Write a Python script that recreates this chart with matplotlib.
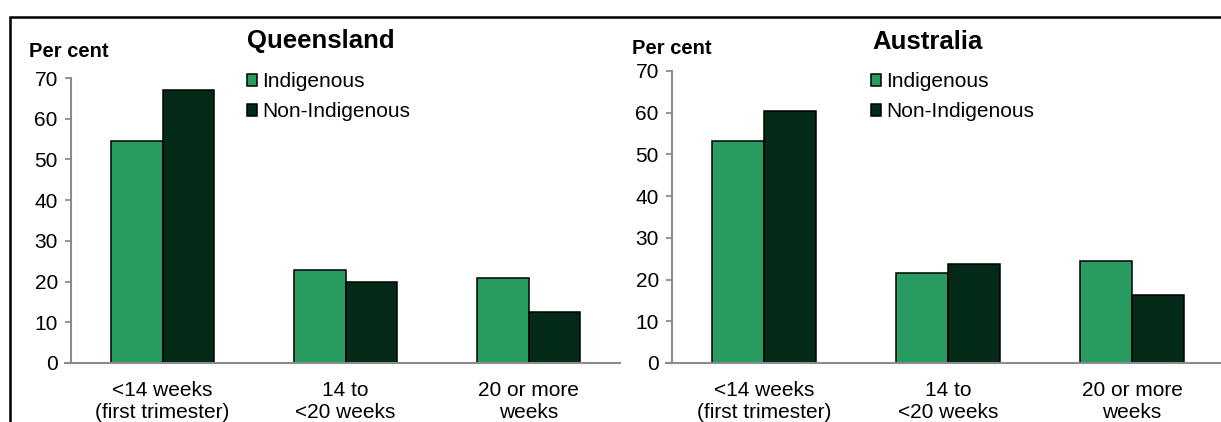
import matplotlib
matplotlib.use("Agg")
import matplotlib.pyplot as plt
from matplotlib.patches import Rectangle, Patch
import numpy as np

plt.rcParams['font.family'] = ['Liberation Sans', 'DejaVu Sans']

# data
categories = ['<14 weeks\n(first trimester)', '14 to\n<20 weeks', '20 or more\nweeks']
series_names = ['Indigenous', 'Non-Indigenous']
qld_indigenous = [54.5, 22.8, 21.0]
qld_non_indigenous = [67.1, 20.0, 12.6]
aus_indigenous = [53.3, 21.5, 24.5]
aus_non_indigenous = [60.3, 23.8, 16.2]

green = '#289C60'
dark = '#032A17'
axis_grey = '#8C8C8C'

W, H = 1221, 422
fig = plt.figure(figsize=(W / 100, H / 100), dpi=100)

# outer frame (right/bottom run off the picture)
fig.patches.append(Rectangle((10 / W, -0.1), 1.2, 1 - 17 / H + 0.1, transform=fig.transFigure,
                             fill=False, edgecolor='black', linewidth=1.8, zorder=10))


def px(x0, y_top, x1, y_bot):
    return [x0 / W, 1 - y_bot / H, (x1 - x0) / W, (y_bot - y_top) / H]


def panel(rect, ind, non, title, title_xy, percent_xy, legend_xy):
    ax = fig.add_axes(rect)
    x = np.arange(len(categories))
    w = 0.283
    ax.bar(x - w / 2, ind, w, color=green, edgecolor='black', linewidth=1.1, label=series_names[0])
    ax.bar(x + w / 2, non, w, color=dark, edgecolor='black', linewidth=1.1, label=series_names[1])
    ax.set_xlim(-0.5, 2.5)
    ax.set_ylim(0, 70)
    ax.set_yticks(range(0, 71, 10))
    ax.set_xticks(x)
    ax.set_xticklabels(categories, fontsize=15, linespacing=1.2)
    ax.tick_params(axis='x', length=0, pad=13)
    ax.tick_params(axis='y', length=4.5, width=1.3, color=axis_grey, labelsize=15, pad=5)
    for s in ['top', 'right']:
        ax.spines[s].set_visible(False)
    for s in ['left', 'bottom']:
        ax.spines[s].set_color(axis_grey)
        ax.spines[s].set_linewidth(1.5)
    ax.spines['bottom'].set_bounds(-0.5 - 6 / 184, 2.5)
    ax.spines['bottom'].set_clip_on(False)

    fig.text(title_xy[0] / W, 1 - title_xy[1] / H, title, fontsize=18.5, fontweight='bold', va='baseline')
    fig.text(percent_xy[0] / W, 1 - percent_xy[1] / H, 'Per cent', fontsize=14.5, fontweight='bold', va='baseline')
    handles = [Patch(facecolor=green, edgecolor='black', linewidth=1.1),
               Patch(facecolor=dark, edgecolor='black', linewidth=1.1)]
    ax.legend(handles, series_names, loc='upper left', frameon=False,
              bbox_to_anchor=(legend_xy[0] / W, 1 - legend_xy[1] / H), bbox_transform=fig.transFigure,
              fontsize=15, handlelength=0.5, handleheight=0.5, handletextpad=0.25,
              labelspacing=0.55, borderpad=0, borderaxespad=0)
    return ax


panel(px(71, 78, 620, 363), qld_indigenous, qld_non_indigenous, 'Queensland', (247, 48), (29, 57), (247, 72))
panel(px(672, 71, 1224, 363), aus_indigenous, aus_non_indigenous, 'Australia', (872, 49), (632, 54), (871, 72))

fig.savefig('out.png', dpi=100)
